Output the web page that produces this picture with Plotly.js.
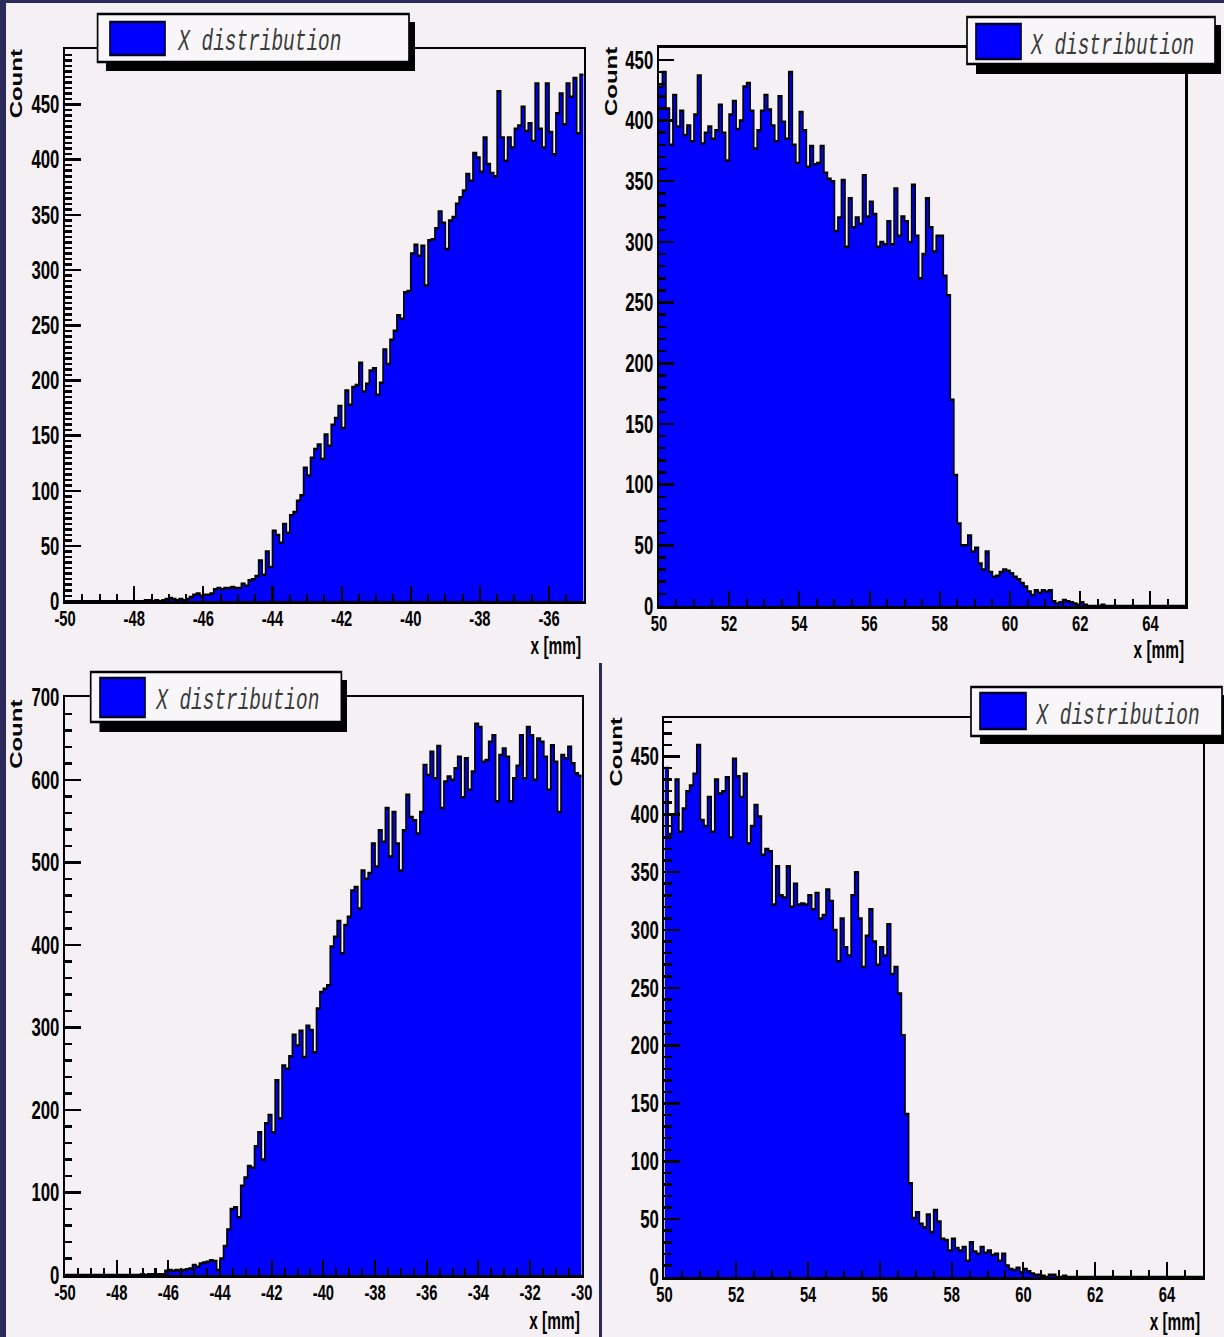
<!DOCTYPE html>
<html><head><meta charset="utf-8">
<script src="https://cdn.plot.ly/plotly-3.0.1.min.js"></script>
<style>
html,body{margin:0;padding:0;overflow:hidden;background:#2b2a5a;width:1224px;height:1337px;}
#plot{width:1827px;height:1337px;transform:scale(0.66995,1);transform-origin:0 0;}
</style></head><body><div id="plot"></div><script>
// ---------- data ----------
const legendLabel = 'X distribution';
const yTitle = 'Count';
const xTitle = 'x [mm]';

// panel 1 (top-left): 150 bins, -50 .. -35 mm
const binRange1 = [-50, -35];
const counts1 = [0,0,0,0,0,0,0,0,0,0,0,0,0,0,0,0,0,0,0,0,0,0,0,
 1,1,0,1,0,1,2,3,2,1,
 2,1,2,4,6,7,5,6,6,7,
 11,12,11,12,12,13,12,12,16,14,
 19,20,23,37,24,45,31,64,60,53,
 70,62,78,81,91,96,121,114,130,138,
 142,129,151,141,160,166,177,157,191,178,
 194,196,216,190,197,209,211,187,198,228,
 215,237,245,259,256,280,281,315,323,313,
 322,286,327,328,338,353,343,319,345,348,
 360,366,372,387,381,406,402,389,420,396,
 388,385,462,420,399,420,411,428,431,448,
 426,433,417,469,428,411,469,425,405,442,
 460,432,469,457,474,424,477];

// panel 2 (top-right): 150 bins, 50 .. 65 mm
const binRange2 = [50, 65];
const counts2 = [428,440,410,380,421,395,408,388,396,383,
 405,437,381,390,395,385,392,413,390,367,
 405,416,393,400,428,431,408,377,392,408,
 421,409,396,383,420,399,385,440,380,365,
 407,392,362,379,364,365,379,357,352,350,
 309,320,351,296,336,312,320,315,355,321,
 333,323,296,300,298,317,298,344,305,321,
 317,300,347,305,270,290,336,312,292,305,
 305,272,256,170,108,68,50,50,58,45,
 48,35,30,45,28,24,25,28,30,29,
 27,24,22,19,16,12,9,13,11,13,
 12,13,4,2,3,5,4,3,2,1,
 3,1,0,0,0,0,1,0,0,0,
 0,0,0,0,0,0,0,0,0,0,0,0,0,0,0,0,0,0,0,0];

// panel 3 (bottom-left): 150 bins, -50 .. -30 mm
const binRange3 = [-50, -30];
const counts3 = [0,0,0,0,0,0,0,0,0,0,0,0,0,0,0,0,0,0,0,0,0,0,
 1,0,1,1,0,1,1,
 5,6,5,6,5,6,7,8,
 12,10,14,15,16,18,17,6,
 20,35,55,80,82,70,108,118,132,130,
 156,173,140,184,194,173,236,190,254,250,
 265,291,278,296,264,302,297,270,323,343,
 347,351,398,410,429,390,424,434,466,470,
 444,490,480,487,523,495,539,525,566,507,
 561,523,490,539,582,555,551,535,561,618,
 606,634,602,641,566,598,604,600,614,628,
 579,626,588,610,668,664,622,624,646,654,
 574,630,638,628,574,602,617,654,602,664,
 654,600,650,646,628,588,642,622,561,630,
 626,640,620,608,605];

// panel 4 (bottom-right): 150 bins, 50 .. 65 mm
const binRange4 = [50, 65];
const counts4 = [440,383,400,430,385,405,420,425,435,460,
 395,390,415,385,430,418,420,432,380,448,
 433,415,435,375,390,408,398,365,370,368,
 322,355,330,328,355,320,340,322,323,322,
 330,318,332,310,313,335,325,300,273,310,
 285,278,330,350,310,268,295,318,290,270,
 285,278,305,262,268,245,209,141,81,51,
 56,46,43,54,39,58,48,33,32,23,
 33,25,23,26,14,30,22,20,26,21,
 23,19,20,14,20,10,7,6,8,4,
 7,5,3,2,2,1,0,2,2,0,
 0,1,0,0,0,0,0,0,0,0,
 0,0,0,0,0,0,0,0,0,0,
 0,0,0,0,0,0,0,0,0,0,
 0,0,0,0,0,0,0,0,0,0];

// tick labels
const xTickVals1 = [-50,-48,-46,-44,-42,-40,-38,-36];
const xTickText1 = ['-50','-48','-46','-44','-42','-40','-38','-36'];
const yTickVals1 = [0,50,100,150,200,250,300,350,400,450];
const yTickText1 = ['0','50','100','150','200','250','300','350','400','450'];
const xTickVals2 = [50,52,54,56,58,60,62,64];
const xTickText2 = ['50','52','54','56','58','60','62','64'];
const yTickVals2 = [0,50,100,150,200,250,300,350,400,450];
const yTickText2 = ['0','50','100','150','200','250','300','350','400','450'];
const xTickVals3 = [-50,-48,-46,-44,-42,-40,-38,-36,-34,-32,-30];
const xTickText3 = ['-50','-48','-46','-44','-42','-40','-38','-36','-34','-32','-30'];
const yTickVals3 = [0,100,200,300,400,500,600,700];
const yTickText3 = ['0','100','200','300','400','500','600','700'];
const xTickVals4 = [50,52,54,56,58,60,62,64];
const xTickText4 = ['50','52','54','56','58','60','62','64'];
const yTickVals4 = [0,50,100,150,200,250,300,350,400,450];
const yTickText4 = ['0','50','100','150','200','250','300','350','400','450'];

// ---------- layout helpers ----------
const IMGW = 1224, IMGH = 1337, W = 1827;
const px = x => x / IMGW;
const py = y => 1 - y / IMGH;
const NAVY = '#2b2a5a', PANEL = '#f4f0f4', BOX = '#f8f6f8', BLUE = '#0000ff';
const xLabelFont = {family:'Liberation Sans, Arial, sans-serif', size:22, color:'#000', weight:'bold'};
const yLabelFont = {family:'Liberation Sans, Arial, sans-serif', size:25, color:'#000', weight:'bold'};

const panels = [
  {counts:counts1, bins:binRange1, ymax:500, yminor:5, xt:[xTickVals1,xTickText1], yt:[yTickVals1,yTickText1],
   dom:[65.1,49.3,583.6,601.3], bg:[6,3,600,663],
   leg:{shadow:[106,22,415,71], box:[97.6,14,409,62], sw:[110,22,165,55], tx:176, ty:42},
   count:[17,84], xt2:[582,646]},
  {counts:counts2, bins:binRange2, ymax:460, yminor:10, xt:[xTickVals2,xTickText2], yt:[yTickVals2,yTickText2],
   dom:[658.9,47.7,1185.5,606], bg:[600,3,1224,663],
   leg:{shadow:[976,25,1221,74], box:[967,17,1215,64], sw:[976,24,1021,59], tx:1029, ty:46},
   count:[611,82], xt2:[1185,650]},
  {counts:counts3, bins:binRange3, ymax:700, yminor:20, xt:[xTickVals3,xTickText3], yt:[yTickVals3,yTickText3],
   dom:[65.1,697.3,581.7,1275], bg:[6,663,599,1337],
   leg:{shadow:[99.5,680,347,732], box:[90.7,672,341.4,722], sw:[100,678,145,717], tx:154, ty:701},
   count:[16,734], xt2:[581,1321]},
  {counts:counts4, bins:binRange4, ymax:483, yminor:10, xt:[xTickVals4,xTickText4], yt:[yTickVals4,yTickText4],
   dom:[664.5,718.3,1202.9,1277], bg:[602,663,1224,1337],
   leg:{shadow:[980,695,1230,744], box:[971,687,1222,736], sw:[980,693,1026,729], tx:1034.5, ty:716},
   count:[616,752], xt2:[1201,1322]}
];

const data = [], shapes = [], annotations = [];
const layout = {
  width: W, height: IMGH, margin:{l:0,r:0,t:0,b:0,pad:0},
  paper_bgcolor: NAVY, plot_bgcolor:'rgba(0,0,0,0)', showlegend:false
};

function rect(r, fill, line, layer){
  return {type:'rect', xref:'paper', yref:'paper', x0:px(r[0]), x1:px(r[2]), y0:py(r[3]), y1:py(r[1]),
          fillcolor:fill, line: line || {width:0}, layer: layer || 'above'};
}

panels.forEach((p, k) => {
  const n = p.counts.length;
  const w = (p.bins[1] - p.bins[0]) / n;
  const xs = Array.from({length:n+1}, (_, i) => p.bins[0] + i*w);
  const ys = p.counts.concat([p.counts[n-1]]);
  const sfx = k === 0 ? '' : String(k+1);
  data.push({x:xs, y:ys, type:'scatter', mode:'lines', line:{shape:'hv', color:'#000', width:2.5},
    fill:'tozeroy', fillcolor:BLUE, xaxis:'x'+sfx, yaxis:'y'+sfx, hoverinfo:'skip'});

  layout['xaxis'+sfx] = {
    domain:[px(p.dom[0]), px(p.dom[2])], range:p.bins, anchor:'y'+sfx,
    tickmode:'array', tickvals:p.xt[0], ticktext:p.xt[1],
    ticks:'inside', ticklen:15, tickwidth:3, tickcolor:'#000', ticklabelstandoff:-4,
    minor:{tickmode:'linear', tick0:p.bins[0], dtick:0.5, ticks:'inside', ticklen:7, tickwidth:3, tickcolor:'#000', showgrid:false},
    showline:true, mirror:true, linecolor:'#000', linewidth:2.5,
    showgrid:false, zeroline:false, tickfont:xLabelFont, fixedrange:true
  };
  layout['yaxis'+sfx] = {
    domain:[py(p.dom[3]), py(p.dom[1])], range:[0, p.ymax], anchor:'x'+sfx,
    tickmode:'array', tickvals:p.yt[0], ticktext:p.yt[1],
    ticks:'inside', ticklen:23, tickwidth:2.5, tickcolor:'#000',
    minor:{tickmode:'linear', tick0:0, dtick:p.yminor, ticks:'inside', ticklen:11, tickwidth:2.5, tickcolor:'#000', showgrid:false},
    showline:true, mirror:true, linecolor:'#000', linewidth:3.5,
    showgrid:false, zeroline:false, tickfont:yLabelFont, fixedrange:true
  };

  shapes.push(rect(p.bg, PANEL, {width:0}, 'below'));
  shapes.push(rect(p.leg.shadow, '#000', {width:0}));
  shapes.push(rect(p.leg.box, BOX, {color:'#000', width:2.5}));
  shapes.push(rect(p.leg.sw, BLUE, {color:'#000030', width:2.5}));

  annotations.push({xref:'paper', yref:'paper', x:px(p.leg.tx), y:py(p.leg.ty), xanchor:'left', yanchor:'middle',
    text:legendLabel, showarrow:false,
    font:{family:'Liberation Mono, Courier New, monospace', size:29, color:'#3a3a3a', style:'italic'}});
  annotations.push({xref:'paper', yref:'paper', x:px(p.count[0]), y:py(p.count[1]), xanchor:'center', yanchor:'middle',
    text:yTitle, textangle:-90, showarrow:false,
    font:{family:'Liberation Sans, Arial, sans-serif', size:24, color:'#000', weight:'bold'}});
  annotations.push({xref:'paper', yref:'paper', x:px(p.xt2[0]), y:py(p.xt2[1]), xanchor:'right', yanchor:'middle',
    text:xTitle, showarrow:false,
    font:{family:'Liberation Sans, Arial, sans-serif', size:23, color:'#000', weight:'bold'}});
});

layout.shapes = shapes;
layout.annotations = annotations;
Plotly.newPlot('plot', data, layout, {staticPlot:true, displayModeBar:false});
</script></body></html>
